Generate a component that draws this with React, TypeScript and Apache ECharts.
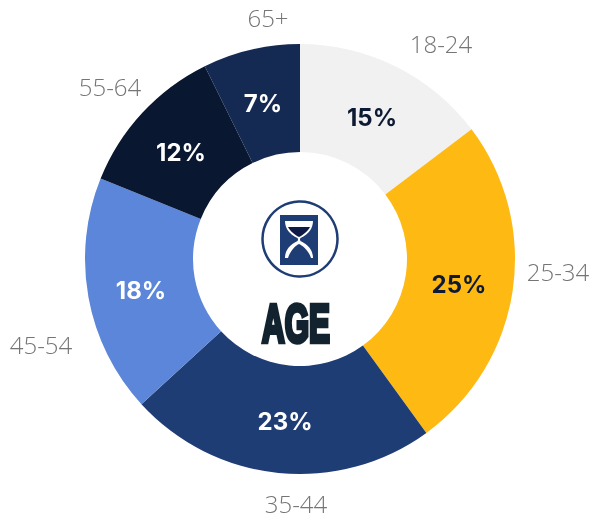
import React, { useEffect, useRef } from "react";
import * as echarts from "echarts";

const categories = ["18-24", "25-34", "35-44", "45-54", "55-64", "65+"];
const shareLabels = ["15%", "25%", "23%", "18%", "12%", "7%"];
const shares = [14.7, 25.3, 23.2, 17.9, 11.6, 7.3];
const sliceColors = ["#f1f1f1", "#feb913", "#1f3d75", "#5b86d9", "#0a1730", "#152a52"];
const shareLabelColors = ["#0d1a33", "#0d1a33", "#ffffff", "#ffffff", "#ffffff", "#ffffff"];
const outerLabelPositions = [
  [441, 43],
  [558, 271],
  [296, 503],
  [41, 344],
  [110, 86],
  [268, 17],
];
const shareLabelPositions = [
  [372, 117],
  [459, 284],
  [285, 421],
  [141, 290],
  [181, 152],
  [263, 103],
];

const NAVY = "#1f3d75";

echarts.graphic.registerShape(
  "hourglassGlass",
  echarts.graphic.extendPath(
    "M0 0 L28 0 C28 7 24 13 15.5 17 C14.8 18 14.8 19 15.5 20 C24 24 28 30 28 37 L0 37 C0 30 4 24 12.5 20 C13.2 19 13.2 18 12.5 17 C4 13 0 7 0 0 Z",
    {}
  )
);
echarts.graphic.registerShape(
  "hourglassSandTop",
  echarts.graphic.extendPath("M0 0 L22 0 C20 4 15 8 11 10 C7 8 2 4 0 0 Z", {})
);
echarts.graphic.registerShape(
  "hourglassSandBottom",
  echarts.graphic.extendPath("M11 0 C14 1 21 7 23 14 L0 14 C2 7 8 1 11 0 Z", {})
);

export default function App() {
  const ref = useRef<HTMLDivElement>(null);
  useEffect(() => {
    const chart = echarts.init(ref.current!, null, { renderer: "svg" });
    chart.setOption({
      animation: false,
      series: [
        {
          type: "pie",
          center: [300, 259],
          radius: [107, 215],
          startAngle: 90,
          clockwise: true,
          silent: true,
          data: categories.map((name, i) => ({
            name,
            value: shares[i],
            itemStyle: { color: sliceColors[i] },
            label: { color: shareLabelColors[i] },
          })),
          label: {
            position: "inside",
            formatter: (p: any) => shareLabels[p.dataIndex],
            fontFamily: "Inter",
            fontWeight: 700,
            fontSize: 24,
            overflow: "none",
          },
          labelLine: { show: false },
          labelLayout: (p: any) => ({
            x: shareLabelPositions[p.dataIndex][0],
            y: shareLabelPositions[p.dataIndex][1],
            align: "center",
            verticalAlign: "middle",
          }),
        },
        {
          type: "pie",
          center: [300, 259],
          radius: [214, 215],
          startAngle: 90,
          silent: true,
          itemStyle: { color: "transparent" },
          data: categories.map((name, i) => ({ name, value: shares[i] })),
          label: {
            position: "outside",
            formatter: "{b}",
            fontFamily: "Open Sans",
            fontWeight: 300,
            fontSize: 24,
            color: "#757575",
            overflow: "none",
            width: 100,
          },
          labelLine: { show: false },
          labelLayout: (p: any) => ({
            x: outerLabelPositions[p.dataIndex][0],
            y: outerLabelPositions[p.dataIndex][1],
            align: "center",
            verticalAlign: "middle",
          }),
        },
      ],
      graphic: [
        {
          type: "circle",
          shape: { cx: 300, cy: 239, r: 37.5 },
          style: { fill: "#fff", stroke: NAVY, lineWidth: 2.5 },
        },
        {
          type: "rect",
          shape: { x: 280, y: 215, width: 38, height: 50 },
          style: { fill: NAVY },
        },
        { type: "hourglassGlass", x: 285, y: 221, style: { fill: "#fff" } },
        { type: "hourglassSandTop", x: 288, y: 227, style: { fill: "#0e1b45" } },
        { type: "hourglassSandBottom", x: 288, y: 244, style: { fill: NAVY } },
        {
          type: "text",
          x: 296,
          y: 323,
          scaleX: 0.58,
          style: {
            text: "AGE",
            x: 0,
            y: 0,
            align: "center",
            verticalAlign: "middle",
            fontFamily: "Liberation Sans",
            fontWeight: 700,
            fontSize: 54,
            fill: "#12232f",
            stroke: "#12232f",
            lineWidth: 4.5,
          },
        },
      ],
    });
    return () => chart.dispose();
  }, []);
  return <div ref={ref} style={{ position: "fixed", left: 0, top: 0, width: 592, height: 518 }} />;
}
